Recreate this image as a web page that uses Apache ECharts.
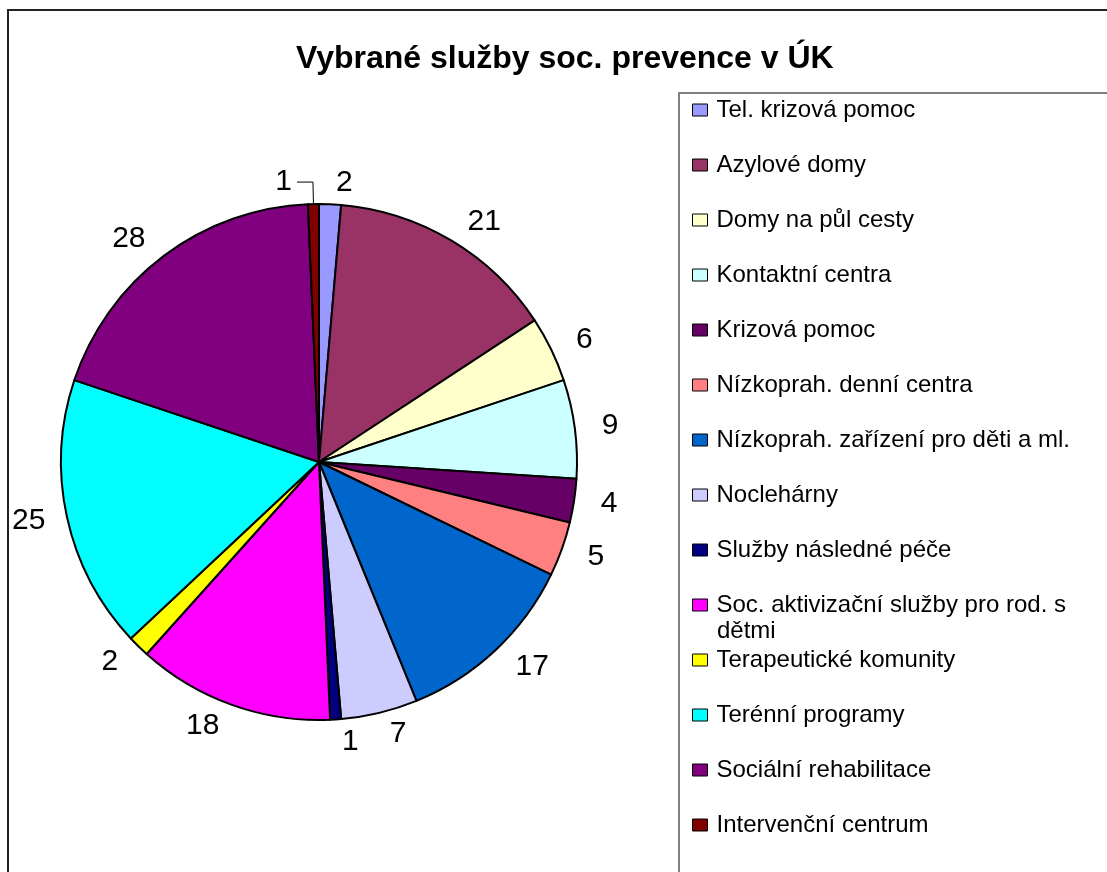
<!DOCTYPE html>
<html>
<head>
<meta charset="utf-8">
<title>Vybrané služby soc. prevence v ÚK</title>
<script src="https://cdn.jsdelivr.net/npm/echarts@6/dist/echarts.min.js"></script>
<style>
  html, body { margin: 0; padding: 0; background: #fff; }
  #main { width: 1107px; height: 872px; }
</style>
</head>
<body>
<div id="main"></div>
<script>
// kategorie sluzeb (poradi jako v legende)
const categories = [
  'Tel. krizová pomoc',
  'Azylové domy',
  'Domy na půl cesty',
  'Kontaktní centra',
  'Krizová pomoc',
  'Nízkoprah. denní centra',
  'Nízkoprah. zařízení pro děti a ml.',
  'Noclehárny',
  'Služby následné péče',
  'Soc. aktivizační služby pro rod. s dětmi',
  'Terapeutické komunity',
  'Terénní programy',
  'Sociální rehabilitace',
  'Intervenční centrum'
]
// pocty zarizeni
const values = [2, 21, 6, 9, 4, 5, 17, 7, 1, 18, 2, 25, 28, 1]
const colors = [
  '#9999FF', '#993366', '#FFFFCC', '#CCFFFF', '#660066', '#FF8080', '#0066CC',
  '#CCCCFF', '#000080', '#FF00FF', '#FFFF00', '#00FFFF', '#800080', '#800000'
]

const font = 'Liberation Sans, Arial, sans-serif'

const chart = echarts.init(document.getElementById('main'))

const pieData = categories.map((name, i) => {
  const item = { name: name, value: values[i] }
  // posledni dilek ma vynasecku k popisku
  if (i === categories.length - 1) {
    item.labelLine = { show: true, length: 22, length2: 16, lineStyle: { color: '#000', width: 1 } }
  }
  // popisek 25 blize k okraji kolace
  if (name === 'Terénní programy') {
    item.labelLine = { show: false, length: 17, length2: 0 }
  }
  return item
})

const option = {
  backgroundColor: '#fff',
  color: colors,
  animation: false,
  title: {
    text: 'Vybrané služby soc. prevence v ÚK',
    left: 296,
    top: 43,
    padding: 0,
    textStyle: {
      fontFamily: font,
      fontSize: 32,
      fontWeight: 'bold',
      color: '#000',
      lineHeight: 32
    }
  },
  legend: {
    orient: 'vertical',
    left: 692,
    top: 97,
    padding: 0,
    itemWidth: 15,
    itemHeight: 12,
    itemGap: 29,
    icon: 'rect',
    selectedMode: false,
    data: categories,
    itemStyle: { borderColor: '#000', borderWidth: 1 },
    formatter: name => name === 'Soc. aktivizační služby pro rod. s dětmi'
      ? 'Soc. aktivizační služby pro rod. s'
      : name,
    textStyle: {
      fontFamily: font,
      fontSize: 24,
      lineHeight: 26,
      color: '#000',
      padding: [0, 0, 0, 4]
    }
  },
  graphic: [
    {
      type: 'rect',
      silent: true,
      z: -1,
      shape: { x: 8, y: 10, width: 1200, height: 1000 },
      style: { fill: 'none', stroke: '#222', lineWidth: 2 }
    },
    {
      type: 'rect',
      silent: true,
      z: -1,
      shape: { x: 679, y: 93, width: 600, height: 900 },
      style: { fill: 'none', stroke: '#808080', lineWidth: 2 }
    },
    {
      type: 'text',
      silent: true,
      x: 717,
      y: 631,
      style: {
        text: 'dětmi',
        font: '24px ' + font,
        fill: '#000',
        verticalAlign: 'middle'
      }
    }
  ],
  series: [
    {
      name: 'Služby',
      type: 'pie',
      center: [319, 462],
      radius: 258,
      startAngle: 90,
      clockwise: true,
      avoidLabelOverlap: false,
      data: pieData,
      itemStyle: { borderColor: '#000', borderWidth: 2 },
      label: {
        show: true,
        position: 'outside',
        formatter: '{c}',
        fontFamily: font,
        fontSize: 30,
        color: '#000'
      },
      labelLine: { show: false, length: 22, length2: 0 },
      emphasis: { disabled: true }
    }
  ]
}

chart.setOption(option)
</script>
</body>
</html>
